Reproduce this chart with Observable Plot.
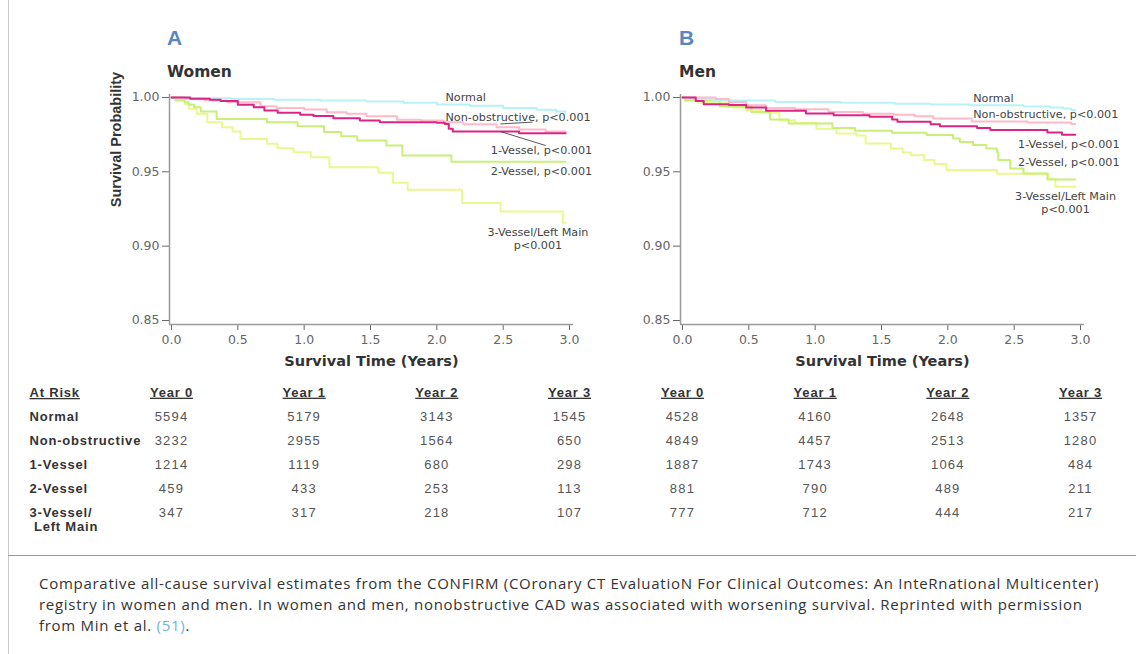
<!DOCTYPE html>
<html>
<head>
<meta charset="utf-8">
<script src="https://cdn.jsdelivr.net/npm/d3@7"></script>
<script src="https://cdn.jsdelivr.net/npm/@observablehq/plot@0.6"></script>
<style>
  body { margin: 0; background: #fff; }
  #root { position: relative; width: 1136px; height: 654px; overflow: hidden; background: #fff; }
  .abs { position: absolute; }
  .panel-letter { font: bold 21px "Liberation Sans", Arial, sans-serif; color: #5b87c0; line-height: 21px; }
  .panel-title { font: bold 15.5px "DejaVu Sans", sans-serif; color: #333; line-height: 15.5px; }
  .caption { font: 15px "Open Sans", sans-serif; color: #333; line-height: 21px; white-space: nowrap; letter-spacing: 0.72px; }
  .caption .ref { color: #6db6e2; }
</style>
</head>
<body>
<div id="root"></div>
<script>
// ---------- data ----------
const groups = ["Normal", "Non-obstructive", "1-Vessel", "2-Vessel", "3-Vessel/Left Main"];
const groupColors = ["#b6f2f8", "#ffb9c9", "#dc2485", "#c9ef78", "#ebf88e"];

// Women: [years, survival probability] step points
const womenNormal = [[0,1],[0.15,0.9995],[0.45,0.999],[0.77,0.9985],[1.12,0.998],[1.47,0.9973],[1.75,0.9964],[2.0,0.9952],[2.25,0.9945],[2.5,0.993],[2.75,0.9918],[2.9,0.9906],[2.97,0.9900]];
const womenNonObstructive = [[0,1],[0.1,0.9993],[0.25,0.998],[0.42,0.9968],[0.67,0.9941],[0.79,0.993],[1.0,0.9919],[1.17,0.9901],[1.32,0.989],[1.47,0.9874],[1.7,0.985],[1.88,0.9845],[2.05,0.9834],[2.2,0.982],[2.45,0.980],[2.62,0.9785],[2.82,0.9771],[2.97,0.9766]];
const women1Vessel = [[0,1],[0.14,0.9991],[0.29,0.9984],[0.37,0.9977],[0.5,0.9951],[0.62,0.9935],[0.7,0.9913],[0.8,0.9897],[0.97,0.9883],[1.07,0.9876],[1.22,0.9861],[1.42,0.9845],[1.57,0.9834],[2.0,0.983],[2.06,0.9822],[2.09,0.979],[2.12,0.9771],[2.62,0.976],[2.97,0.976]];
const women2Vessel = [[0,1],[0.03,0.998],[0.1,0.9968],[0.13,0.9951],[0.17,0.9935],[0.22,0.9906],[0.34,0.9855],[0.72,0.9834],[0.95,0.9807],[1.15,0.9767],[1.28,0.974],[1.4,0.9711],[1.62,0.9677],[1.74,0.961],[2.11,0.9567],[2.97,0.9567]];
const women3Vessel = [[0,1],[0.03,0.999],[0.1,0.9957],[0.13,0.9924],[0.19,0.989],[0.27,0.9834],[0.38,0.980],[0.46,0.9771],[0.52,0.972],[0.72,0.9688],[0.8,0.9659],[0.92,0.9632],[1.05,0.9598],[1.19,0.9531],[1.56,0.9493],[1.67,0.9426],[1.78,0.938],[2.19,0.929],[2.48,0.9233],[2.95,0.9157],[2.97,0.9157]];

// Men
const menNormal = [[0,1],[0.05,0.999],[0.23,0.998],[0.7,0.997],[1.19,0.9964],[1.6,0.9957],[1.87,0.9953],[2.17,0.9948],[2.57,0.994],[2.77,0.9933],[2.87,0.9925],[2.93,0.9915],[2.96,0.9915]];
const menNonObstructive = [[0,1],[0.25,0.999],[0.35,0.997],[0.48,0.9948],[0.63,0.993],[0.85,0.992],[1.1,0.9903],[1.36,0.989],[1.59,0.9883],[1.75,0.9873],[1.89,0.9859],[2.18,0.9838],[2.6,0.9832],[2.93,0.9822],[2.96,0.9822]];
const men1Vessel = [[0,1],[0.1,0.9977],[0.16,0.9955],[0.35,0.995],[0.48,0.9933],[0.63,0.991],[0.93,0.9892],[1.14,0.988],[1.41,0.987],[1.58,0.9852],[1.62,0.9836],[1.87,0.982],[1.94,0.9807],[2.22,0.9795],[2.32,0.9782],[2.75,0.9765],[2.86,0.975],[2.96,0.975]];
const men2Vessel = [[0,1],[0.02,0.998],[0.28,0.994],[0.52,0.9903],[0.66,0.9852],[0.8,0.9825],[1.13,0.9795],[1.3,0.9776],[1.58,0.9762],[1.84,0.9747],[2.04,0.9724],[2.09,0.970],[2.19,0.968],[2.29,0.9657],[2.37,0.9634],[2.38,0.958],[2.47,0.9523],[2.57,0.9489],[2.75,0.9449],[2.96,0.9449]];
const men3Vessel = [[0,1],[0.02,0.998],[0.12,0.9965],[0.38,0.9933],[0.48,0.9915],[0.6,0.9897],[0.73,0.9847],[0.85,0.9828],[1.01,0.979],[1.16,0.9758],[1.31,0.9745],[1.38,0.969],[1.57,0.9657],[1.66,0.963],[1.72,0.9612],[1.82,0.9579],[1.9,0.9552],[1.99,0.9513],[2.37,0.9487],[2.76,0.9455],[2.81,0.940],[2.96,0.940]];

// Axis ticks
const xTicks = [0, 0.5, 1.0, 1.5, 2.0, 2.5, 3.0];
const yTicks = [0.85, 0.90, 0.95, 1.00];

// Numbers at risk
const riskYears = [0, 1, 2, 3];
const rowLabels = ["Normal", "Non-obstructive", "1-Vessel", "2-Vessel", "3-Vessel/\n\u00a0Left Main"];
const womenRiskNormal = [5594, 5179, 3143, 1545];
const womenRiskNonObstructive = [3232, 2955, 1564, 650];
const womenRisk1Vessel = [1214, 1119, 680, 298];
const womenRisk2Vessel = [459, 433, 253, 113];
const womenRisk3Vessel = [347, 317, 218, 107];
const menRiskNormal = [4528, 4160, 2648, 1357];
const menRiskNonObstructive = [4849, 4457, 2513, 1280];
const menRisk1Vessel = [1887, 1743, 1064, 484];
const menRisk2Vessel = [881, 790, 489, 211];
const menRisk3Vessel = [777, 712, 444, 217];

// Curve labels (text)
const curveLabelText = ["Normal", "Non-obstructive, p<0.001", "1-Vessel, p<0.001", "2-Vessel, p<0.001", "3-Vessel/Left Main\np<0.001"];

// ---------- layout / annotation placement ----------
const xDomain = [-0.015, 3.03];
const yDomain = [0.8473, 1.002];
const womenLabelPos = [
  {x: 2.065, y: 1.0002, anchor: "start"},
  {x: 2.065, y: 0.9867, anchor: "start"},
  {x: 3.171, y: 0.9650, anchor: "end"},
  {x: 3.171, y: 0.9509, anchor: "end"},
  {x: 2.762, y: 0.9050, anchor: "middle"}
];
const menLabelPos = [
  {x: 2.191, y: 0.9996, anchor: "start"},
  {x: 2.191, y: 0.9890, anchor: "start"},
  {x: 3.294, y: 0.9688, anchor: "end"},
  {x: 3.294, y: 0.9569, anchor: "end"},
  {x: 2.887, y: 0.9292, anchor: "middle"}
];
const womenLeaders = [
  {x1: 2.479, y1: 0.9822, x2: 2.721, y2: 0.9834},
  {x1: 2.479, y1: 0.9771, x2: 2.819, y2: 0.9677}
];

const root = document.getElementById("root");
function addDiv(cls, html, left, top) {
  const d = document.createElement("div");
  d.className = "abs " + cls;
  d.innerHTML = html;
  d.style.left = left + "px";
  d.style.top = top + "px";
  root.appendChild(d);
  return d;
}
function place(node, left, top) {
  node.style.position = "absolute";
  node.style.left = left + "px";
  node.style.top = top + "px";
  root.appendChild(node);
}

// frame lines of the page
const border = document.createElement("div");
border.className = "abs";
Object.assign(border.style, {left: "8px", top: "0px", width: "0px", height: "654px", borderLeft: "1.5px solid #c9c9c9"});
root.appendChild(border);
const sep = document.createElement("div");
sep.className = "abs";
Object.assign(sep.style, {left: "8px", top: "555px", width: "1128px", height: "0px", borderTop: "1.5px solid #9a9a9a"});
root.appendChild(sep);

function chart(series, labelPos, leaders, showYLabel, width) {
  const order = [4, 3, 0, 1, 2];
  const data = [];
  for (const i of order) for (const [t, s] of series[i]) data.push({group: groups[i], t, s});
  const labels = curveLabelText.map((text, i) => ({text, ...labelPos[i]}));
  return Plot.plot({
    width, height: 300,
    marginTop: 14, marginBottom: 56, marginLeft: 169, marginRight: width - 169 - 404,
    style: {background: "transparent", overflow: "visible", fontFamily: "DejaVu Sans", fontSize: "12.5px", color: "#666"},
    x: {domain: xDomain, ticks: xTicks, tickFormat: d3.format(".1f"), tickSize: 6, tickPadding: 5, label: null},
    y: {domain: yDomain, ticks: yTicks, tickFormat: d3.format(".2f"), tickSize: 7, tickPadding: 3, label: null},
    color: {domain: groups, range: groupColors},
    marks: [
      Plot.ruleX([xDomain[0]], {stroke: "#9a9a9a", strokeWidth: 1.5}),
      Plot.ruleY([yDomain[0]], {stroke: "#9a9a9a", strokeWidth: 1.5}),
      Plot.line(data, {x: "t", y: "s", z: "group", stroke: "group", curve: "step-after", strokeWidth: 2}),
      Plot.link(leaders, {x1: "x1", y1: "y1", x2: "x2", y2: "y2", stroke: "#444", strokeWidth: 0.9}),
      ...labels.map(l => Plot.text([l], {x: "x", y: "y", text: "text", textAnchor: l.anchor, lineAnchor: "middle", lineHeight: 1.15, fill: "#444", fontSize: 11.2})),
      Plot.text(["Survival Time (Years)"], {frameAnchor: "bottom", lineAnchor: "middle", dy: 36.4, fontFamily: "DejaVu Sans", fontWeight: "bold", fontSize: 14.5, fill: "#333"}),
      showYLabel ? Plot.text(["Survival Probability"], {frameAnchor: "left", rotate: -90, lineAnchor: "middle", dx: -53.4, dy: -2.3, fontFamily: "Liberation Sans", fontWeight: "bold", fontSize: 14.5, fill: "#333"}) : null
    ]
  });
}

function table(riskRows, withLabels, width) {
  const rows = ["At Risk", ...rowLabels];
  const cells = [];
  riskRows.forEach((vals, r) => vals.forEach((n, j) => cells.push({row: rowLabels[r], year: riskYears[j], n})));
  const p = Plot.plot({
    width, height: 160,
    marginTop: 10.7, marginBottom: 27.3, marginLeft: 169, marginRight: width - 169 - 404,
    style: {background: "transparent", overflow: "visible", fontFamily: "Liberation Sans", fontSize: "13px"},
    x: {domain: xDomain, axis: null},
    y: {type: "point", domain: rows, padding: 0, axis: null},
    marks: [
      Plot.text(riskYears, {x: d => d, y: () => "At Risk", text: d => `Year ${d}`, fontWeight: "bold", fill: "#333", lineAnchor: "middle"}),
      Plot.text(cells, {x: "year", y: "row", text: d => String(d.n), fill: "#555", lineAnchor: "middle"}),
      withLabels ? Plot.text(rows, {y: d => d, text: d => d, frameAnchor: "left", dx: -140, textAnchor: "start", lineAnchor: "top", dy: -5.5, lineHeight: 1.08, fontWeight: "bold", fill: "#333"}) : null
    ]
  });
  d3.select(p).selectAll("text").each(function() {
    const t = this.textContent;
    const sel = d3.select(this);
    if (/^\d+$/.test(t)) sel.style("letter-spacing", "1.2px");
    else sel.style("letter-spacing", "0.8px");
    if (/^Year/.test(t) || t === "At Risk") sel.style("text-decoration", "underline");
  });
  return p;
}

// Panel A (Women)
addDiv("panel-letter", "A", 167, 27.4);
addDiv("panel-title", "Women", 167, 65.2);
place(chart([womenNormal, womenNonObstructive, women1Vessel, women2Vessel, women3Vessel], womenLabelPos, womenLeaders, true, 600), 0, 80);

// Panel B (Men)
addDiv("panel-letter", "B", 679, 27.4);
addDiv("panel-title", "Men", 679, 65.2);
place(chart([menNormal, menNonObstructive, men1Vessel, men2Vessel, men3Vessel], menLabelPos, [], false, 625), 511, 80);

// At-risk tables
place(table([womenRiskNormal, womenRiskNonObstructive, womenRisk1Vessel, womenRisk2Vessel, womenRisk3Vessel], true, 600), 0, 380);
place(table([menRiskNormal, menRiskNonObstructive, menRisk1Vessel, menRisk2Vessel, menRisk3Vessel], false, 625), 511, 380);

// Caption
addDiv("caption",
  "Comparative all-cause survival estimates from the CONFIRM (COronary CT EvaluatioN For Clinical Outcomes: An InteRnational Multicenter)<br>" +
  "registry in women and men. In women and men, nonobstructive CAD was associated with worsening survival. Reprinted with permission<br>" +
  "from Min et al. <span class=\"ref\">(51)</span>.",
  39, 573);
</script>
</body>
</html>
